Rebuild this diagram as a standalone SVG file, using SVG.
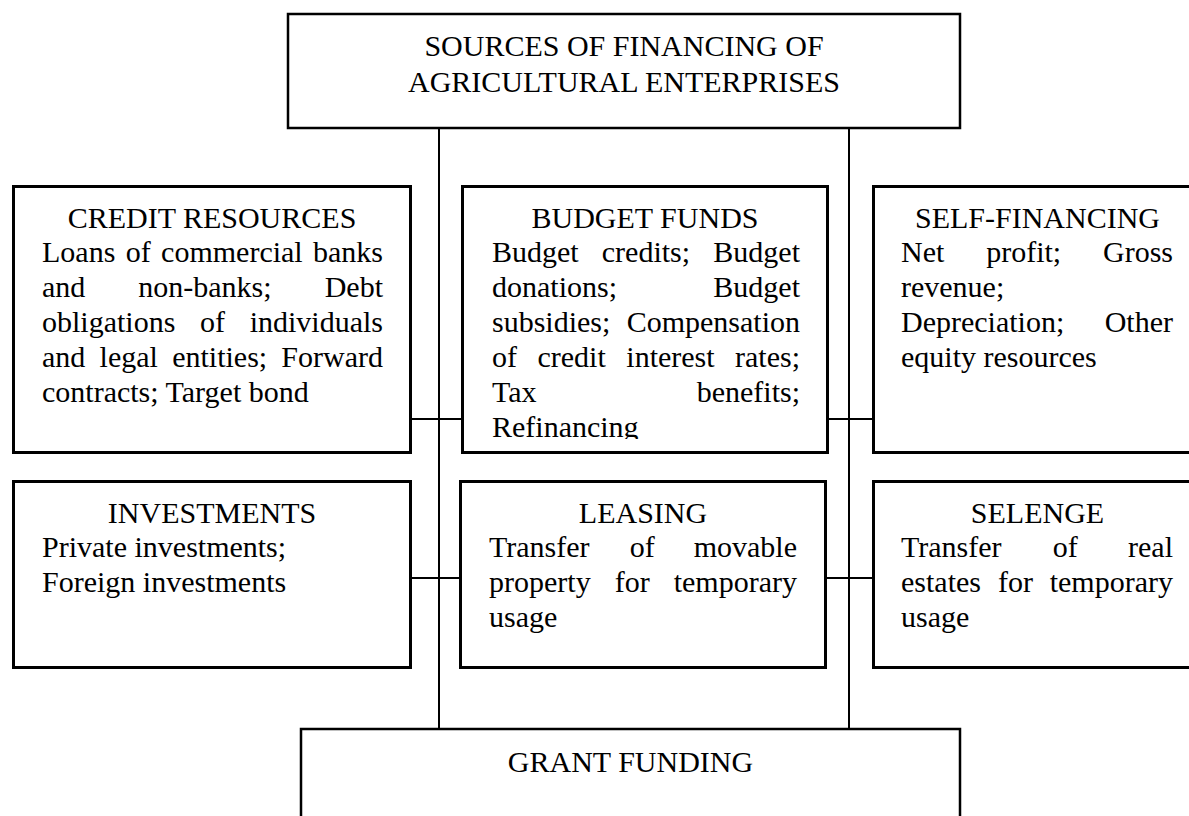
<svg xmlns="http://www.w3.org/2000/svg" width="1189" height="816" viewBox="0 0 1189 816">
  <style>
    .box { fill: #ffffff; stroke: #000000; stroke-width: 3; }
    .box-thin { fill: #ffffff; stroke: #000000; stroke-width: 2.5; }
    .link { fill: none; stroke: #000000; stroke-width: 2; }
    text { font-family: "Liberation Serif", "Times New Roman", serif; font-size: 30px; fill: #000000; }
    .c { text-anchor: middle; }
    .e { text-anchor: end; }
  </style>
  <defs>
    <!-- the last line of the budget list is cut by the frame of the text area -->
    <clipPath id="budget-text-clip">
      <rect x="462" y="186" width="366" height="253"/>
    </clipPath>
  </defs>

  <!-- connectors -->
  <g id="connectors">
    <line class="link" x1="439" y1="128" x2="439" y2="729"/>
    <line class="link" x1="849" y1="128" x2="849" y2="729"/>
    <line class="link" x1="411" y1="419" x2="462" y2="419"/>
    <line class="link" x1="827" y1="419" x2="873" y2="419"/>
    <line class="link" x1="409" y1="578" x2="460" y2="578"/>
    <line class="link" x1="825" y1="578" x2="873" y2="578"/>
  </g>

  <g id="sources">
    <rect class="box-thin" x="288" y="14" width="672" height="114"/>
    <text class="c" x="624" y="56">SOURCES OF FINANCING OF</text>
    <text class="c" x="624" y="92">AGRICULTURAL ENTERPRISES</text>
  </g>

  <g id="credit-resources">
    <rect class="box" x="13.5" y="186.5" width="397" height="266"/>
    <text class="c" x="212" y="228">CREDIT RESOURCES</text>
    <text y="262"><tspan x="42">Loans</tspan><tspan x="125.7">of</tspan><tspan x="161.1">commercial</tspan></text>
    <text class="e" x="383" y="262">banks</text>
    <text y="297"><tspan x="42">and</tspan><tspan x="138.3">non-banks;</tspan></text>
    <text class="e" x="383" y="297">Debt</text>
    <text y="332"><tspan x="42">obligations</tspan><tspan x="200">of</tspan></text>
    <text class="e" x="383" y="332">individuals</text>
    <text y="367"><tspan x="42">and</tspan><tspan x="99.6">legal</tspan><tspan x="172.2">entities;</tspan></text>
    <text class="e" x="383" y="367">Forward</text>
    <text x="42" y="402">contracts; Target bond</text>
  </g>

  <g id="budget-funds">
    <rect class="box" x="462.5" y="186.5" width="365" height="266"/>
    <text class="c" x="645" y="228">BUDGET FUNDS</text>
    <g clip-path="url(#budget-text-clip)">
      <text y="262"><tspan x="492">Budget</tspan><tspan x="601.8">credits;</tspan></text>
      <text class="e" x="800" y="262">Budget</text>
      <text x="492" y="297">donations;</text>
      <text class="e" x="800" y="297">Budget</text>
      <text x="492" y="332">subsidies;</text>
      <text class="e" x="800" y="332">Compensation</text>
      <text y="367"><tspan x="492">of</tspan><tspan x="537.5">credit</tspan><tspan x="626.3">interest</tspan></text>
      <text class="e" x="800" y="367">rates;</text>
      <text x="492" y="402">Tax</text>
      <text class="e" x="800" y="402">benefits;</text>
      <text x="492" y="437">Refinancing</text>
    </g>
  </g>

  <g id="self-financing">
    <rect class="box" x="873.5" y="186.5" width="340" height="266"/>
    <text class="c" x="1037.5" y="228">SELF-FINANCING</text>
    <text y="262"><tspan x="901">Net</tspan><tspan x="986.2">profit;</tspan></text>
    <text class="e" x="1173" y="262">Gross</text>
    <text x="901" y="297">revenue;</text>
    <text x="901" y="332">Depreciation;</text>
    <text class="e" x="1173" y="332">Other</text>
    <text x="901" y="367">equity resources</text>
  </g>

  <g id="investments">
    <rect class="box" x="13.5" y="481.5" width="397" height="186"/>
    <text class="c" x="212" y="523">INVESTMENTS</text>
    <text x="42" y="557">Private investments;</text>
    <text x="42" y="592">Foreign investments</text>
  </g>

  <g id="leasing">
    <rect class="box" x="460.5" y="481.5" width="365" height="186"/>
    <text class="c" x="643" y="523">LEASING</text>
    <text y="557"><tspan x="489">Transfer</tspan><tspan x="629.7">of</tspan></text>
    <text class="e" x="797" y="557">movable</text>
    <text y="592"><tspan x="489">property</tspan><tspan x="614.7">for</tspan></text>
    <text class="e" x="797" y="592">temporary</text>
    <text x="489" y="627">usage</text>
  </g>

  <g id="selenge">
    <rect class="box" x="873.5" y="481.5" width="340" height="186"/>
    <text class="c" x="1037.5" y="523">SELENGE</text>
    <text y="557"><tspan x="901">Transfer</tspan><tspan x="1052.8">of</tspan></text>
    <text class="e" x="1173" y="557">real</text>
    <text y="592"><tspan x="901">estates</tspan><tspan x="997.9">for</tspan></text>
    <text class="e" x="1173" y="592">temporary</text>
    <text x="901" y="627">usage</text>
  </g>

  <g id="grant-funding">
    <rect class="box-thin" x="301" y="729" width="659" height="120"/>
    <text class="c" x="630.5" y="772">GRANT FUNDING</text>
  </g>
</svg>
